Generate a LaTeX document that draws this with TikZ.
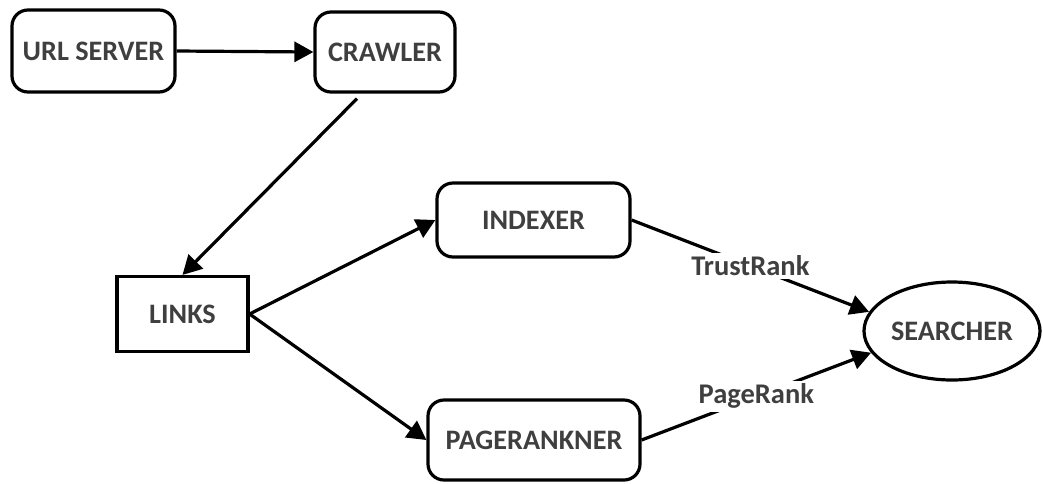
\documentclass[tikz,border=0pt]{standalone}
\usepackage{fontspec}
\setmainfont{Carlito}
\usetikzlibrary{arrows.meta,shapes.geometric}
\definecolor{txt}{HTML}{3F3F3F}
\tikzset{
  unit/.style={draw=black, line width=3.2pt, text=txt, font=\fontsize{28.2}{32}\selectfont\bfseries, inner sep=0pt},
  roundbox/.style={unit, rectangle, rounded corners=16pt},
  plainbox/.style={unit, rectangle},
  ovalbox/.style={unit, ellipse},
  link/.style={line width=3.2pt, -{Triangle[length=19pt,width=20pt]}},
  tag/.style={fill=white, text=txt, font=\fontsize{28.5}{32}\selectfont\bfseries, inner sep=3pt}
}
\begin{document}
\begin{tikzpicture}[x=1pt,y=-1pt]
  \useasboundingbox (0,0) rectangle (1043,483);
  \node[roundbox, minimum width=163pt, minimum height=82pt] (url) at (93.5,51) {URL SERVER};
  \node[roundbox, minimum width=140pt, minimum height=80pt] (crawler) at (385,52) {CRAWLER};
  \node[plainbox, minimum width=131pt, minimum height=75pt] (links) at (182.5,314) {LINKS};
  \node[roundbox, minimum width=193pt, minimum height=74pt] (indexer) at (533.5,220) {INDEXER};
  \node[roundbox, minimum width=212pt, minimum height=80pt] (pagerankner) at (534,440) {PAGERANKNER};
  \node[ovalbox, minimum width=176pt, minimum height=98pt] (searcher) at (952,331) {SEARCHER};

  \draw[link] (url.east) -- (crawler.west);
  \draw[link] ([xshift=-28pt,yshift=-5pt]crawler.south) -- (links.north);
  \draw[link] (links.east) -- (indexer.west);
  \draw[link] (links.east) -- (pagerankner.west);
  \draw[link] (indexer.east) -- node[tag, pos=0.5] {TrustRank} (searcher.167);
  \draw[link] (pagerankner.east) -- node[tag, pos=0.5] {PageRank} (searcher.195);
\end{tikzpicture}
\end{document}
